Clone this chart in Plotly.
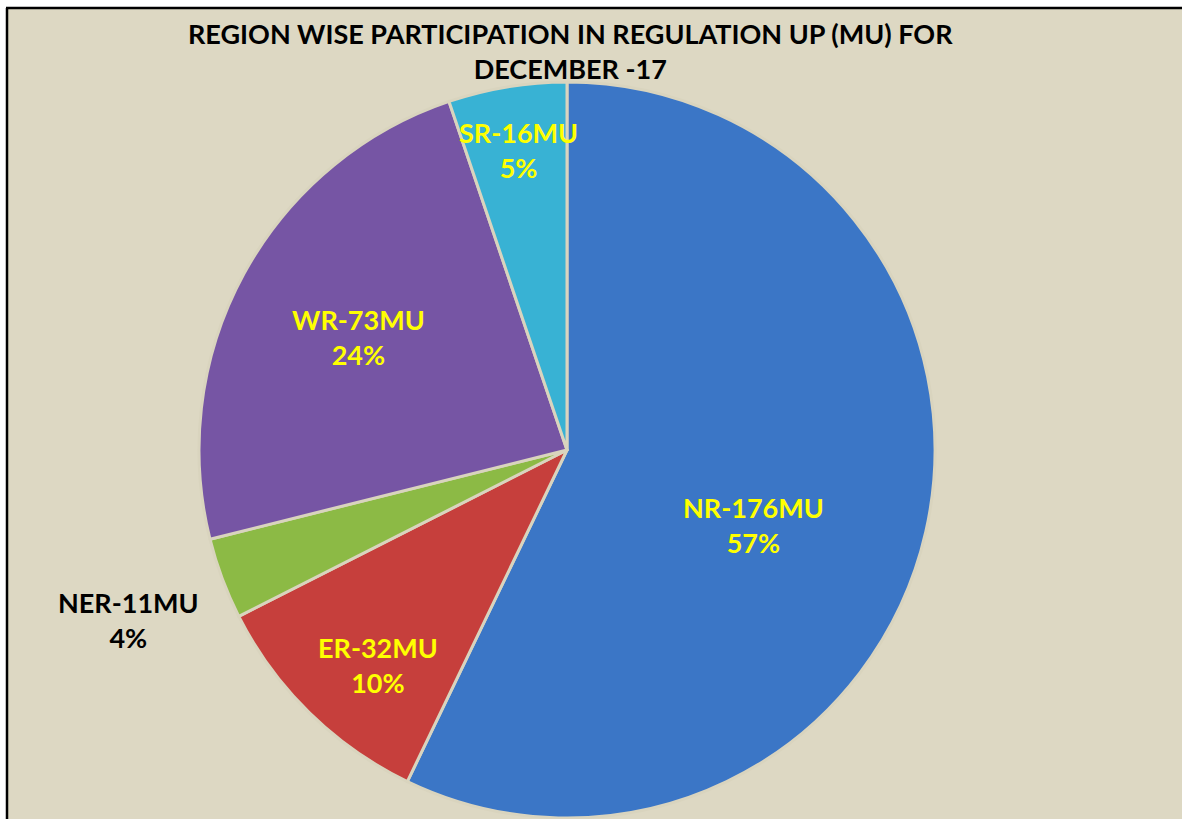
import plotly.graph_objects as go

# ---- data ----
regions = ["NR", "ER", "NER", "WR", "SR"]
energy_mu = [176, 32, 11, 73, 16]
percent_labels = ["57%", "10%", "4%", "24%", "5%"]
title_text = "REGION WISE PARTICIPATION IN REGULATION UP (MU) FOR<br>DECEMBER -17"

# ---- style ----
W, H = 1182, 819
colors = ["#3B76C6", "#C63F3C", "#8CBA45", "#7655A4", "#38B2D4"]
label_colors = ["#FFFF00", "#FFFF00", "#000000", "#FFFF00", "#FFFF00"]
label_px = [(753, 525), (378, 665), (128, 620), (358, 337), (518, 150)]

cx, cy, R = 567, 450, 368
def px(x):
    return x / W
def py(y):
    return 1 - y / H

fig = go.Figure(go.Pie(
    labels=regions,
    values=energy_mu,
    sort=False,
    direction="clockwise",
    rotation=0,
    marker=dict(colors=colors, line=dict(color="#D9D4BE", width=3)),
    textinfo="none",
    hoverinfo="label+value+percent",
    showlegend=False,
    domain=dict(x=[px(cx - R), px(cx + R)], y=[max(0, py(cy + R)), py(cy - R)]),
))

annotations = []
for reg, v, pct, col, (lx, ly) in zip(regions, energy_mu, percent_labels, label_colors, label_px):
    annotations.append(dict(
        x=px(lx), y=py(ly), xref="paper", yref="paper",
        xanchor="center", yanchor="middle",
        text=f"<b>{reg}-{v}MU<br>{pct}</b>",
        showarrow=False, align="center",
        font=dict(family="Lato", size=27, color=col),
    ))
annotations.append(dict(
    x=px(570), y=py(51), xref="paper", yref="paper",
    xanchor="center", yanchor="middle",
    text=f"<b>{title_text}</b>", showarrow=False, align="center",
    font=dict(family="Lato", size=27, color="#000000"),
))

fig.update_layout(
    width=W, height=H,
    margin=dict(l=0, r=0, t=0, b=0),
    paper_bgcolor="#DDD8C3",
    annotations=annotations,
    shapes=[
        dict(type="rect", xref="paper", yref="paper", layer="below",
             x0=0, x1=px(6), y0=0, y1=1, fillcolor="#FFFFFF", line=dict(width=0)),
        dict(type="rect", xref="paper", yref="paper", layer="below",
             x0=0, x1=1, y0=py(7), y1=1, fillcolor="#FFFFFF", line=dict(width=0)),
        dict(type="line", xref="paper", yref="paper", layer="below",
             x0=px(7), x1=px(7), y0=0, y1=py(8), line=dict(color="#000000", width=2.5)),
        dict(type="line", xref="paper", yref="paper", layer="below",
             x0=px(6), x1=1, y0=py(8), y1=py(8), line=dict(color="#000000", width=2.5)),
    ],
)

fig.write_html(
    "out.html",
    config={"displayModeBar": False},
    post_script="document.body.style.margin='0';document.body.style.overflow='hidden';",
)
